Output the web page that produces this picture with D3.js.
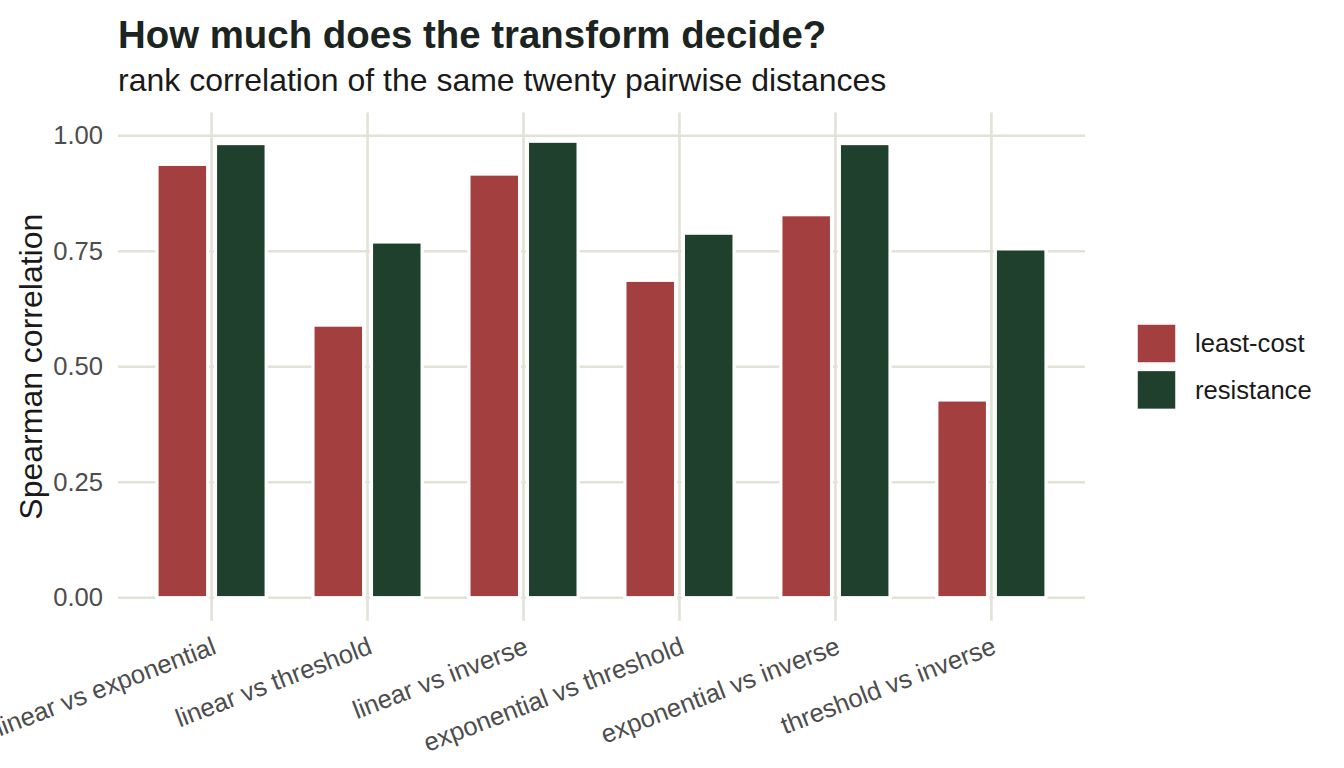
<!DOCTYPE html>
<html>
<head>
<meta charset="utf-8">
<script src="https://cdn.jsdelivr.net/npm/d3@7"></script>
<style>
  body { margin: 0; background: #fff; }
  svg { display: block; font-family: "Liberation Sans", Arial, sans-serif; }
</style>
</head>
<body>
<script>
// chart data
var comparisons = ["linear vs exponential", "linear vs threshold", "linear vs inverse",
                   "exponential vs threshold", "exponential vs inverse", "threshold vs inverse"];
var series = ["least-cost", "resistance"];
var leastCost = [0.938, 0.590, 0.917, 0.687, 0.829, 0.428];
var resistance = [0.983, 0.770, 0.988, 0.789, 0.983, 0.755];
var yTicks = [0, 0.25, 0.5, 0.75, 1];

var colors = { "least-cost": "#a43f3f", "resistance": "#20402e" };
var gridColor = "#e2e2d6";

var W = 1344, H = 768,
    panelL = 118, panelR = 1085, panelT = 112.6, panelB = 620.8;

var rows = comparisons.map(function(c, i) {
  return { comp: c, values: [
    { key: "least-cost", val: leastCost[i] },
    { key: "resistance", val: resistance[i] }
  ]};
});

var svg = d3.select("body").append("svg")
    .attr("width", W)
    .attr("height", H);

var x = d3.scalePoint().domain(comparisons).range([panelL, panelR]).padding(0.6);
var step = x.step();
var xs = d3.scaleBand().domain(series).range([-0.375 * step, 0.375 * step]);
var barW = xs.bandwidth() * 0.65 / 0.75;
var y = d3.scaleLinear().domain([-0.05, 1.05]).range([panelB, panelT]);

// grid
svg.append("g").selectAll("line")
  .data(yTicks).enter().append("line")
    .attr("x1", panelL).attr("x2", panelR)
    .attr("y1", function(d) { return y(d); })
    .attr("y2", function(d) { return y(d); })
    .attr("stroke", gridColor).attr("stroke-width", 2.6);

svg.append("g").selectAll("line")
  .data(comparisons).enter().append("line")
    .attr("x1", function(d) { return x(d); })
    .attr("x2", function(d) { return x(d); })
    .attr("y1", panelT).attr("y2", panelB)
    .attr("stroke", gridColor).attr("stroke-width", 2.6);

// bars
var groups = svg.append("g").selectAll("g")
  .data(rows).enter().append("g")
    .attr("transform", function(d) { return "translate(" + x(d.comp) + ",0)"; });

groups.selectAll("rect")
  .data(function(d) { return d.values; })
  .enter().append("rect")
    .attr("x", function(d) { return xs(d.key) + xs.bandwidth() / 2 - barW / 2; })
    .attr("width", barW)
    .attr("y", function(d) { return y(d.val); })
    .attr("height", function(d) { return y(0) - y(d.val); })
    .attr("fill", function(d) { return colors[d.key]; })
    .attr("stroke", "#fff")
    .attr("stroke-width", 3.2);

// y axis labels
var yAxis = d3.axisLeft(y).tickValues(yTicks).tickFormat(d3.format(".2f")).tickSize(0).tickPadding(0);
var ya = svg.append("g")
    .attr("transform", "translate(103,0)")
    .call(yAxis);
ya.select(".domain").remove();
ya.selectAll("text")
    .attr("font-size", "25.6px")
    .attr("font-family", "Liberation Sans, Arial, sans-serif")
    .attr("fill", "#4d4d4d");

// x axis labels, rotated
svg.append("g").selectAll("text")
  .data(comparisons).enter().append("text")
    .attr("transform", function(d) { return "translate(" + (x(d) + 6) + ",653) rotate(-21)"; })
    .attr("text-anchor", "end")
    .attr("font-size", "25.6px")
    .attr("fill", "#4d4d4d")
    .text(function(d) { return d; });

// axis title
svg.append("text")
    .attr("transform", "translate(42," + ((panelT + panelB) / 2) + ") rotate(-90)")
    .attr("text-anchor", "middle")
    .attr("font-size", "32px")
    .attr("fill", "#1a1a1a")
    .text("Spearman correlation");

// titles
svg.append("text")
    .attr("x", panelL).attr("y", 48)
    .attr("font-size", "38.4px")
    .attr("font-weight", "bold")
    .attr("fill", "#1b2420")
    .text("How much does the transform decide?");

svg.append("text")
    .attr("x", panelL).attr("y", 91)
    .attr("font-size", "32px")
    .attr("fill", "#1a1a1a")
    .text("rank correlation of the same twenty pairwise distances");

// legend
var legend = svg.append("g").attr("transform", "translate(1137,324)");
var items = legend.selectAll("g")
  .data(series).enter().append("g")
    .attr("transform", function(d, i) { return "translate(0," + (i * 46.4) + ")"; });
items.append("rect")
    .attr("width", 39).attr("height", 39)
    .attr("fill", function(d) { return colors[d]; })
    .attr("stroke", "#fff").attr("stroke-width", 1.5);
items.append("text")
    .attr("x", 58).attr("y", 19.5)
    .attr("dy", "0.35em")
    .attr("font-size", "25.6px")
    .attr("fill", "#1a1a1a")
    .text(function(d) { return d; });
</script>
</body>
</html>
